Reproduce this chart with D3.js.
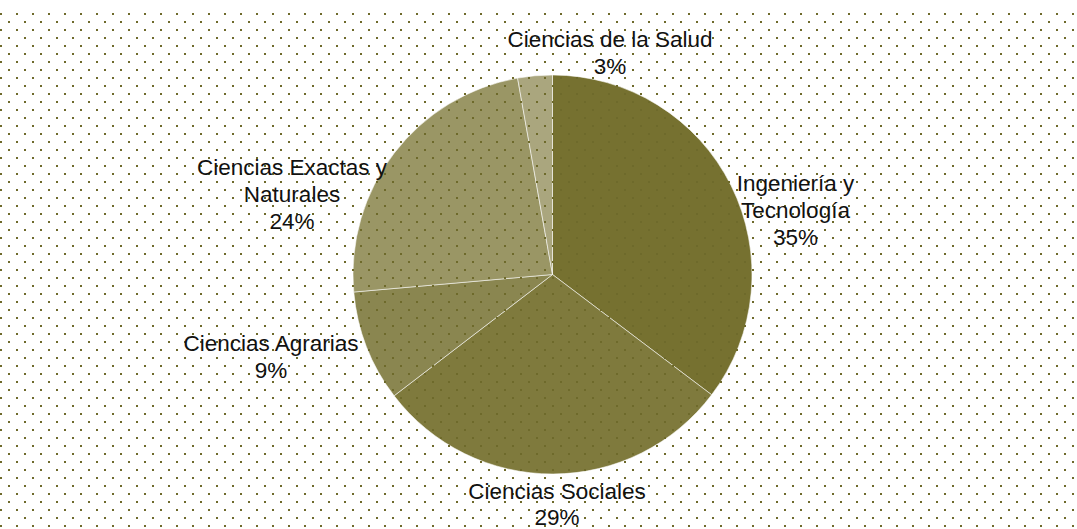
<!DOCTYPE html>
<html>
<head>
<meta charset="utf-8">
<script src="https://cdn.jsdelivr.net/npm/d3@7/dist/d3.min.js"></script>
<style>
html,body{margin:0;padding:0;background:#fff;}
svg{display:block;}
</style>
</head>
<body>
<svg id="chart" width="1077" height="529"></svg>
<script>
const categories = ["Ingeniería y Tecnología", "Ciencias Sociales", "Ciencias Agrarias", "Ciencias Exactas y Naturales", "Ciencias de la Salud"];
const values = [35.3, 29.3, 9.0, 23.6, 2.8];
const labelLines = [["Ingeniería y", "Tecnología"], ["Ciencias Sociales"], ["Ciencias Agrarias"], ["Ciencias Exactas y", "Naturales"], ["Ciencias de la Salud"]];
const sliceColors = ["#767130", "#7f7a3d", "#8a8650", "#9a9665", "#aaa67e"];

const W = 1077, H = 529;
const cx = 552.5, cy = 274.5, R = 199.5;
const svg = d3.select("#chart");

const defs = svg.append("defs");
const pat = defs.append("pattern").attr("id", "dots")
  .attr("patternUnits", "userSpaceOnUse")
  .attr("x", 0).attr("y", 5).attr("width", 16).attr("height", 16);
pat.append("rect").attr("x", 0).attr("y", 8).attr("width", 2).attr("height", 2).attr("fill", "#6e6a2b");
pat.append("rect").attr("x", 8).attr("y", 0).attr("width", 2).attr("height", 2).attr("fill", "#6e6a2b");

svg.append("rect").attr("width", W).attr("height", H).attr("fill", "#ffffff");

const data = categories.map((c, i) => ({ name: c, value: values[i], lines: labelLines[i], color: sliceColors[i] }));
const pie = d3.pie().sort(null).value(d => d.value);
const arcs = pie(data);
const arc = d3.arc().innerRadius(0).outerRadius(R);

const g = svg.append("g").attr("transform", `translate(${cx},${cy})`);
g.selectAll("path.slice").data(arcs).join("path")
  .attr("class", "slice")
  .attr("d", arc)
  .attr("fill", d => d.data.color)
  .attr("stroke", "#ffffff")
  .attr("stroke-opacity", 0.55)
  .attr("stroke-width", 1);

// dotted pattern overlay over whole area
svg.append("rect").attr("x", 0).attr("y", 10).attr("width", W).attr("height", H - 10).attr("fill", "url(#dots)");

// label anchors: center x and first-line baseline, relative to pie center
const labelPos = [
  [243, -83.5],  // Ingeniería
  [4.5, 224],    // Sociales
  [-281.5, 76.5],// Agrarias
  [-260.5, -99.5],// Exactas
  [57.5, -227.5] // Salud
];
const lineH = 26.8;
const total = d3.sum(values);

const lg = svg.append("g").attr("font-family", "'Liberation Sans', Arial, sans-serif")
  .attr("font-size", 22.5).attr("fill", "#111").attr("text-anchor", "middle");
arcs.forEach((a, i) => {
  const lines = a.data.lines.concat([Math.round(a.data.value / total * 100) + "%"]);
  const x = cx + labelPos[i][0];
  const y0 = cy + labelPos[i][1];
  lines.forEach((t, j) => {
    lg.append("text").attr("x", x).attr("y", y0 + j * lineH).text(t);
  });
});
</script>
</body>
</html>
